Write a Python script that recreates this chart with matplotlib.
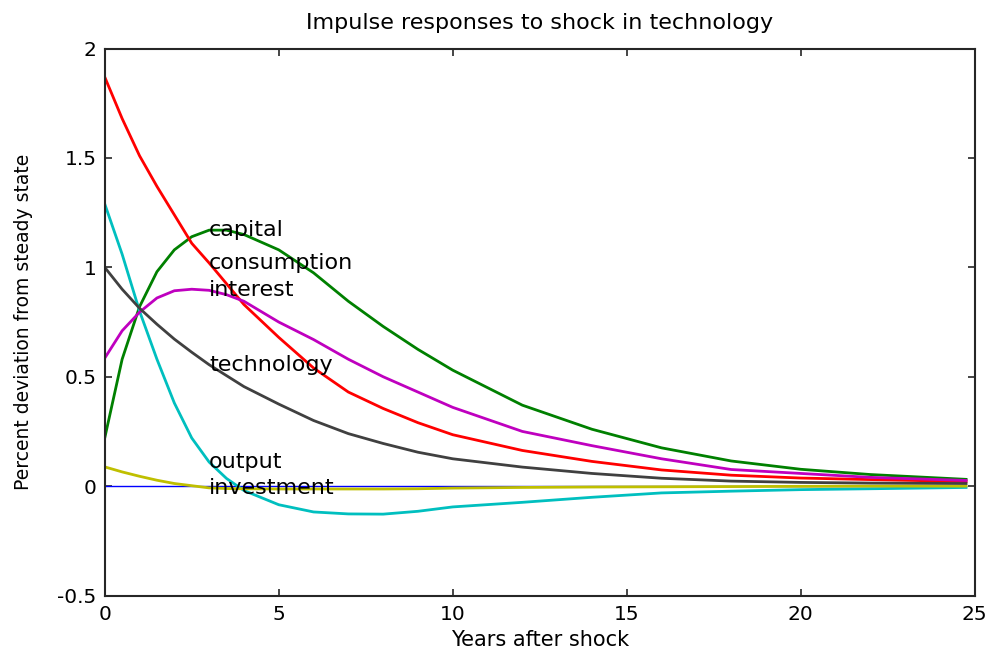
import numpy as np
import matplotlib
matplotlib.use('Agg')
from matplotlib import pyplot as plt

# Years after the shock (sample points)
years = [0, 0.5, 1, 1.5, 2, 2.5, 3, 3.5, 4, 5, 6, 7, 8, 9, 10,
         12, 14, 16, 18, 20, 22, 24.75]

# Responses, percent deviation from steady state
zero_line = [0.0] * len(years)
capital = [0.22, 0.58, 0.82, 0.98, 1.08, 1.14, 1.17, 1.17, 1.15, 1.08, 0.975,
           0.845, 0.73, 0.625, 0.53, 0.37, 0.26, 0.175, 0.115, 0.077, 0.053, 0.031]
consumption = [1.87, 1.68, 1.51, 1.37, 1.24, 1.11, 1.02, 0.925, 0.83, 0.68, 0.54,
               0.43, 0.355, 0.29, 0.235, 0.163, 0.113, 0.074, 0.05, 0.037, 0.03, 0.021]
output = [1.29, 1.06, 0.80, 0.58, 0.38, 0.22, 0.11, 0.035, -0.02, -0.085, -0.118,
          -0.127, -0.128, -0.115, -0.095, -0.074, -0.051, -0.031, -0.023, -0.016,
          -0.012, -0.006]
interest = [0.585, 0.71, 0.795, 0.86, 0.893, 0.90, 0.895, 0.875, 0.845, 0.75, 0.67,
            0.58, 0.50, 0.43, 0.36, 0.25, 0.185, 0.125, 0.076, 0.058, 0.04, 0.026]
investment = [0.088, 0.065, 0.045, 0.027, 0.012, 0.002, -0.008, -0.011, -0.012,
              -0.013, -0.013, -0.013, -0.013, -0.012, -0.009, -0.006, -0.004,
              -0.003, -0.002, -0.001, 0.0, 0.0]
technology = [1.0, 0.90, 0.813, 0.74, 0.672, 0.612, 0.555, 0.505, 0.455, 0.375, 0.30,
              0.24, 0.195, 0.155, 0.125, 0.087, 0.058, 0.036, 0.023, 0.017, 0.014, 0.012]

# MATLAB style colour order: b, g, r, c, m, y, k
series = [
    (zero_line, '#0000ff', None),
    (capital, '#008000', 'capital'),
    (consumption, '#ff0000', 'consumption'),
    (output, '#00bfbf', 'output'),
    (interest, '#bf00bf', 'interest'),
    (investment, '#bfbf00', 'investment'),
    (technology, '#404040', 'technology'),
]

label_year = 3

fig = plt.figure(figsize=(9.89, 6.5), dpi=100)
ax = fig.add_axes([0.1059, 0.0838, 0.8797, 0.8415])

for values, color, name in series:
    lw = 1.0 if name is None else 2.0
    ax.plot(years, values, color=color, linewidth=lw)

for values, color, name in series:
    if name is None:
        continue
    y_at = np.interp(label_year, years, values)
    ax.text(label_year, y_at, name, fontsize=16, color='black',
            ha='left', va='center', family='DejaVu Sans')

ax.set_xlim(0, 25)
ax.set_ylim(-0.5, 2)
ax.set_xticks([0, 5, 10, 15, 20, 25])
ax.set_yticks([-0.5, 0, 0.5, 1, 1.5, 2])
ax.set_yticklabels(['-0.5', '0', '0.5', '1', '1.5', '2'])

ax.tick_params(direction='in', length=5, width=1.2, top=True, right=True,
               labelsize=14.5, colors='#262626', labelcolor='black')
ax.tick_params(axis='x', pad=7)
ax.tick_params(axis='y', pad=6)
for sp in ax.spines.values():
    sp.set_linewidth(1.5)
    sp.set_color('#262626')

ax.set_title('Impulse responses to shock in technology', fontsize=16, pad=14)
ax.set_xlabel('Years after shock', fontsize=15, labelpad=4)
ax.set_ylabel('Percent deviation from steady state', fontsize=13.5)
ax.yaxis.set_label_coords(-0.082, 0.5)

fig.savefig('out.png', dpi=100)
